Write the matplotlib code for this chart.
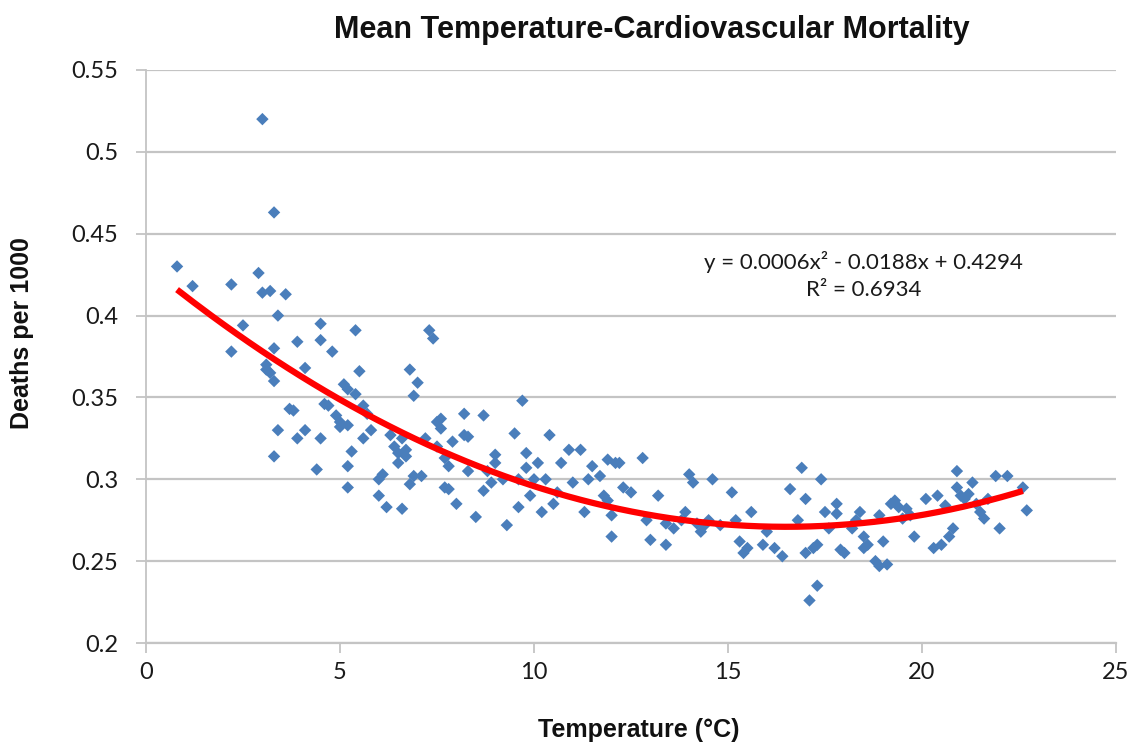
import matplotlib
matplotlib.use("Agg")
import matplotlib.pyplot as plt
import numpy as np

temp = [0.8, 1.2, 2.2, 2.2, 2.5, 2.9, 3.0, 3.0, 3.1, 3.2, 3.3, 3.3, 3.3, 3.4, 3.4, 3.3, 3.6, 3.7, 3.8, 3.9,
        3.9, 4.1, 4.1, 4.4, 4.5, 4.5, 4.6, 4.7, 4.5, 4.8, 4.9, 5.0, 5.1, 5.2, 5.2, 5.2, 5.2, 5.4, 5.3, 5.4,
        5.5, 5.6, 5.6, 5.7, 5.8, 6.0, 6.0, 6.1, 6.2, 6.3, 6.4, 6.5, 6.5, 6.6, 6.6, 6.7, 6.8, 6.8, 6.9, 6.9,
        7.0, 7.1, 7.2, 7.3, 7.4, 7.5, 7.5, 7.6, 7.6, 7.7, 7.7, 7.8, 7.8, 7.9, 8.0, 8.2, 8.2, 8.3, 8.5, 8.7,
        8.7, 8.8, 8.9, 9.0, 9.0, 9.2, 9.3, 9.5, 9.6, 9.6, 9.7, 9.8, 9.8, 9.9, 10.0, 10.1, 10.2, 10.3, 10.4, 10.5,
        10.7, 10.9, 11.0, 11.2, 11.3, 11.4, 11.5, 11.7, 11.9, 11.9, 12.0, 12.0, 12.1, 12.2, 12.3, 12.5, 12.8, 12.9, 13.0, 13.2,
        13.4, 13.4, 13.6, 13.9, 14.0, 14.1, 14.2, 14.3, 14.5, 14.6, 14.8, 15.1, 15.2, 15.3, 15.4, 15.5, 15.6,
        15.9, 16.2, 16.4, 16.6, 16.8, 16.9, 17.0, 17.0, 17.1, 17.2, 17.3, 17.3, 17.4, 17.5, 17.6, 17.8, 17.8, 17.9, 18.0,
        18.3, 18.4, 18.5, 18.5, 18.6, 18.8, 18.9, 18.9, 19.0, 19.1, 19.2, 19.3, 19.5, 19.6, 19.7, 19.8, 20.1, 20.3, 20.4,
        20.5, 20.7, 20.8, 20.9, 20.9, 21.0, 21.1, 21.3, 21.4, 21.5, 21.6, 21.7, 21.9, 22.0, 22.2, 22.6, 22.7,
        3.1, 3.2, 5.0, 6.7, 8.3, 10.6, 11.8, 13.8, 14.4, 16.0, 18.2, 19.4, 20.6, 21.2]
deaths = [0.430, 0.418, 0.419, 0.378, 0.394, 0.426, 0.520, 0.414, 0.370, 0.415, 0.463, 0.380, 0.360, 0.400, 0.330, 0.314, 0.413, 0.343, 0.342, 0.384,
          0.325, 0.368, 0.330, 0.306, 0.395, 0.385, 0.346, 0.345, 0.325, 0.378, 0.339, 0.332, 0.358, 0.355, 0.333, 0.308, 0.295, 0.352, 0.317, 0.391,
          0.366, 0.345, 0.325, 0.340, 0.330, 0.300, 0.290, 0.303, 0.283, 0.327, 0.320, 0.316, 0.310, 0.282, 0.325, 0.314, 0.367, 0.297, 0.351, 0.302,
          0.359, 0.302, 0.325, 0.391, 0.386, 0.335, 0.320, 0.337, 0.331, 0.313, 0.295, 0.308, 0.294, 0.323, 0.285, 0.340, 0.327, 0.326, 0.277, 0.339,
          0.293, 0.305, 0.298, 0.315, 0.310, 0.300, 0.272, 0.328, 0.300, 0.283, 0.348, 0.316, 0.307, 0.290, 0.300, 0.310, 0.280, 0.300, 0.327, 0.285,
          0.310, 0.318, 0.298, 0.318, 0.280, 0.300, 0.308, 0.302, 0.312, 0.287, 0.265, 0.278, 0.310, 0.310, 0.295, 0.292, 0.313, 0.275, 0.263, 0.290,
          0.273, 0.260, 0.270, 0.280, 0.303, 0.298, 0.273, 0.268, 0.275, 0.300, 0.272, 0.292, 0.275, 0.262, 0.255, 0.258, 0.280,
          0.260, 0.258, 0.253, 0.294, 0.275, 0.307, 0.288, 0.255, 0.226, 0.258, 0.260, 0.235, 0.300, 0.280, 0.270, 0.285, 0.279, 0.257, 0.255,
          0.275, 0.280, 0.265, 0.258, 0.260, 0.250, 0.247, 0.278, 0.262, 0.248, 0.285, 0.287, 0.276, 0.282, 0.278, 0.265, 0.288, 0.258, 0.290,
          0.260, 0.265, 0.270, 0.295, 0.305, 0.290, 0.288, 0.298, 0.285, 0.280, 0.276, 0.288, 0.302, 0.270, 0.302, 0.295, 0.281,
          0.367, 0.365, 0.335, 0.318, 0.305, 0.292, 0.290, 0.275, 0.272, 0.268, 0.270, 0.283, 0.284, 0.291]

trend_coef = [0.000588, -0.0194, 0.431]
trend_range = [0.8, 22.6]
x_ticks = [0, 5, 10, 15, 20, 25]
y_ticks = [0.2, 0.25, 0.3, 0.35, 0.4, 0.45, 0.5, 0.55]
y_labels = ["0.2", "0.25", "0.3", "0.35", "0.4", "0.45", "0.5", "0.55"]

plt.rcParams['font.family'] = ['Lato', 'DejaVu Sans']
arial = ['Liberation Sans', 'DejaVu Sans']
fig = plt.figure(figsize=(11.33, 7.42), dpi=100)
W, H = 1133, 742
ax = fig.add_axes([146 / W, 1 - 643 / H, (1116 - 146) / W, (643 - 70) / H])

ax.scatter(temp, deaths, marker='D', s=40, color='#4a7ebb', edgecolors='none', zorder=3)
xs = np.linspace(trend_range[0], trend_range[1], 200)
ax.plot(xs, np.polyval(trend_coef, xs), color='#ff0000', lw=4.5, zorder=4, solid_capstyle='butt')

ax.set_xlim(0, 25)
ax.set_ylim(0.2, 0.55)
ax.set_xticks(x_ticks)
ax.set_yticks(y_ticks)
ax.set_yticklabels(y_labels)
ax.grid(axis='y', color='#c4c4c4', lw=1.6, zorder=0)
for s in ['top', 'right']:
    ax.spines[s].set_visible(False)
ax.spines['left'].set_color('#c4c4c4')
ax.spines['bottom'].set_color('#c4c4c4')
ax.spines['left'].set_linewidth(1.3)
ax.spines['bottom'].set_linewidth(1.6)
ax.tick_params(axis='both', colors='#c4c4c4', labelcolor='#1a1a1a', labelsize=17, length=7, width=1.3)
ax.tick_params(axis='x', pad=7)
ax.tick_params(axis='y', pad=13)

fig.text(652 / W, 1 - 30 / H, "Mean Temperature-Cardiovascular Mortality", ha='center', va='center',
         fontsize=22, fontweight='bold', family=arial, color='#111111')
fig.text(639 / W, 1 - 730 / H, "Temperature (°C)", ha='center', va='center',
         fontsize=18, fontweight='bold', family=arial, color='#111111')
fig.text(22 / W, 1 - 333 / H, "Deaths per 1000", ha='center', va='center', rotation=90,
         fontsize=18, fontweight='bold', family=arial, color='#111111')

ax.text(18.5, 0.4327, "y = 0.0006x² - 0.0188x + 0.4294", ha='center', va='center', fontsize=16, color='#1a1a1a')
ax.text(18.5, 0.4156, "R² = 0.6934", ha='center', va='center', fontsize=16, color='#1a1a1a')

fig.savefig("out.png", dpi=100)
